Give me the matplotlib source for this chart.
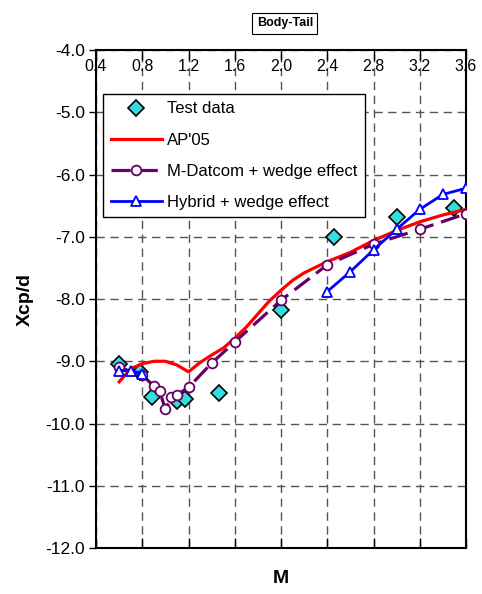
import numpy as np
import matplotlib
matplotlib.use("Agg")
import matplotlib.pyplot as plt

plt.rcParams['font.family'] = ['Liberation Sans', 'DejaVu Sans']

# Test data
test_m = [0.6, 0.78, 0.88, 1.1, 1.17, 1.46, 2.0, 2.46, 3.0, 3.5]
test_x = [-9.04, -9.17, -9.58, -9.64, -9.61, -9.51, -8.18, -7.0, -6.69, -6.54]

# AP'05
ap_m = [0.6, 0.7, 0.8, 0.9, 1.0, 1.1, 1.2, 1.3, 1.4, 1.5, 1.6, 1.7, 1.8, 1.9,
        2.0, 2.1, 2.2, 2.4, 2.6, 2.8, 3.0, 3.2, 3.4, 3.6]
ap_x = [-9.33, -9.12, -9.04, -9.0, -9.0, -9.06, -9.17, -9.02, -8.9, -8.79, -8.63,
        -8.45, -8.24, -8.03, -7.86, -7.7, -7.58, -7.4, -7.25, -7.06, -6.9, -6.76,
        -6.65, -6.56]

# M-Datcom + wedge effect
md_m = [0.6, 0.8, 0.9, 0.95, 1.0, 1.05, 1.1, 1.2, 1.4, 1.6, 2.0, 2.4, 2.8, 3.2, 3.6]
md_x = [-9.1, -9.22, -9.4, -9.48, -9.77, -9.58, -9.54, -9.42, -9.03, -8.69, -8.02,
        -7.45, -7.12, -6.88, -6.63]

# Hybrid + wedge effect (gap between 0.8 and 2.4)
hy_m = [0.6, 0.7, 0.8, np.nan, 2.4, 2.6, 2.8, 3.0, 3.2, 3.4, 3.6]
hy_x = [-9.15, -9.15, -9.2, np.nan, -7.88, -7.56, -7.21, -6.88, -6.56, -6.32, -6.22]

fig = plt.figure(figsize=(4.82, 5.94), dpi=100)
ax = fig.add_axes([0.1992, 0.0774, 0.7676, 0.8384])

ax.plot(test_m, test_x, linestyle='none', marker='D', markersize=8,
        markerfacecolor='#33dddd', markeredgecolor='black', markeredgewidth=1.2,
        label='Test data', zorder=3)
ax.plot(ap_m, ap_x, color='red', linewidth=2.3, label="AP'05", zorder=4)
ax.plot(md_m, md_x, color='#660066', linewidth=2.3, dashes=(6, 2.5),
        marker='o', markersize=7, markerfacecolor='white', markeredgecolor='#660066',
        markeredgewidth=1.3, label='M-Datcom + wedge effect', zorder=5)
ax.plot(hy_m, hy_x, color='blue', linewidth=2.0, marker='^', markersize=7,
        markerfacecolor='white', markeredgecolor='blue', markeredgewidth=1.3,
        label='Hybrid + wedge effect', zorder=6)

ax.set_xlim(0.4, 3.6)
ax.set_ylim(-12.0, -4.0)
ax.set_xticks(np.arange(0.4, 3.61, 0.4))
ax.set_yticks(np.arange(-12.0, -3.9, 1.0))
ax.set_xticklabels(['%.1f' % v for v in np.arange(0.4, 3.61, 0.4)])
ax.set_yticklabels(['%.1f' % v for v in np.arange(-12.0, -3.9, 1.0)])

ax.tick_params(axis='x', which='both', direction='in', length=7, top=True, bottom=True,
               labeltop=True, labelbottom=False, pad=-17, labelsize=11.5, width=1)
ax.tick_params(axis='y', direction='out', length=5, labelsize=12.5, width=1, pad=3)

ax.grid(True, color='#555555', linestyle=(0, (6, 4)), linewidth=1.0)
ax.set_axisbelow(True)
for sp in ax.spines.values():
    sp.set_linewidth(1.5)

ax.set_ylabel('Xcp/d', fontsize=14, fontweight='bold', labelpad=8)
ax.set_xlabel('M', fontsize=14, fontweight='bold', labelpad=16)

leg = ax.legend(loc='upper left', bbox_to_anchor=(0.019, 0.912), fontsize=12,
                frameon=True, fancybox=False, edgecolor='black', framealpha=1,
                handlelength=3.1, borderpad=0.45, labelspacing=0.97, handletextpad=0.3,
                borderaxespad=0)
leg.get_frame().set_linewidth(1.0)

fig.text(0.591, 0.961, 'Body-Tail', fontsize=9, fontweight='bold', ha='center', va='center',
         bbox=dict(boxstyle='square,pad=0.35', facecolor='white', edgecolor='black', linewidth=0.8))

fig.savefig('out.png', dpi=100)
